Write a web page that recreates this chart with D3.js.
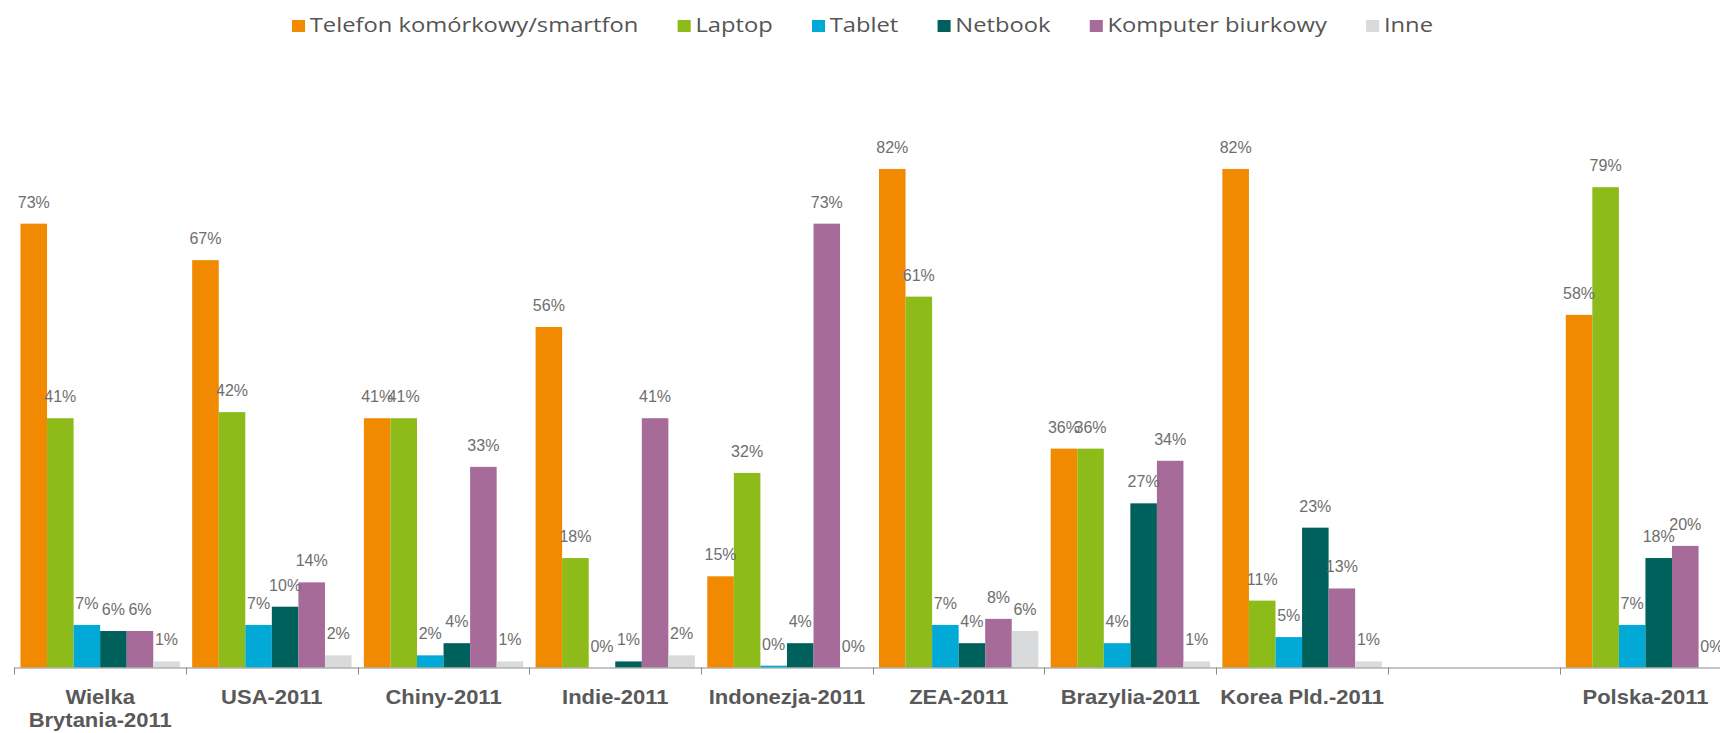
<!doctype html>
<html>
<head>
  <meta charset="utf-8">
  <title>Urządzenia</title>
  <script src="https://d3js.org/d3.v7.min.js"></script>
  <style>
    body { margin: 0; background: #fff; }
    svg { display: block; }
    .legend-text { font-family: "Open Sans", sans-serif; font-size: 20px; fill: #555; }
    .val { font-family: "Liberation Sans", Arial, sans-serif; font-size: 16px; fill: #6e6e6e; }
    .cat { font-family: "Liberation Sans", Arial, sans-serif; font-size: 20px; font-weight: bold; fill: #595959; }
  </style>
</head>
<body>
  <div id="chart"></div>
  <script>
    var width = 1720;
    var height = 733;

    // countries (one empty slot before Polska, like in the original)
    var categories = ["Wielka\nBrytania-2011", "USA-2011", "Chiny-2011", "Indie-2011", "Indonezja-2011",
      "ZEA-2011", "Brazylia-2011", "Korea Pld.-2011", "", "Polska-2011"];
    var series = ["Telefon komórkowy/smartfon", "Laptop", "Tablet", "Netbook", "Komputer biurkowy", "Inne"];
    var colors = ["#f18a00", "#8dbb1a", "#00a9d6", "#00615c", "#a66b99", "#d9dadb"];

    // values in %
    var telefon  = [73, 67, 41, 56, 15, 82, 36, 82, null, 58];
    var laptop   = [41, 42, 41, 18, 32, 61, 36, 11, null, 79];
    var tablet   = [7, 7, 2, 0, 0.3, 7, 4, 5, null, 7];
    var netbook  = [6, 10, 4, 1, 4, 4, 27, 23, null, 18];
    var komputer = [6, 14, 33, 41, 73, 8, 34, 13, null, 20];
    var inne     = [1, 2, 1, 2, 0, 6, 1, 1, null, 0];
    var values = [telefon, laptop, tablet, netbook, komputer, inne];

    var svg = d3.select("#chart")
      .append("svg")
      .attr("width", width)
      .attr("height", height);

    var baseY = 667.5;
    var x0 = d3.scaleBand().domain(categories).range([14.3, 14.3 + 171.7 * categories.length]);
    var x1 = d3.scaleBand().domain(series).range([x0.bandwidth() * 0.036, x0.bandwidth() * 0.964]);
    var y = d3.scaleLinear().domain([0, 100]).range([baseY, baseY - 608]);

    // flatten into bar records
    var bars = [];
    categories.forEach(function(c, i) {
      series.forEach(function(s, j) {
        var v = values[j][i];
        if (v != null) bars.push({ cat: c, ser: s, idx: j, v: v });
      });
    });

    svg.append("g").selectAll("rect")
      .data(bars)
      .enter()
      .append("rect")
      .attr("x", function(d) { return x0(d.cat) + x1(d.ser); })
      .attr("width", x1.bandwidth())
      .attr("y", function(d) { return y(d.v); })
      .attr("height", function(d) { return baseY - y(d.v); })
      .attr("fill", function(d) { return colors[d.idx]; });

    svg.append("g").selectAll("text")
      .data(bars)
      .enter()
      .append("text")
      .attr("class", "val")
      .attr("text-anchor", "middle")
      .attr("x", function(d) { return x0(d.cat) + x1(d.ser) + x1.bandwidth() / 2; })
      .attr("y", function(d) { return y(d.v) - 16; })
      .text(function(d) { return Math.round(d.v) + "%"; });

    // x axis: line + ticks on group boundaries
    var axis = svg.append("g");
    axis.append("line")
      .attr("x1", x0.range()[0]).attr("x2", width)
      .attr("y1", baseY + 0.5).attr("y2", baseY + 0.5)
      .attr("stroke", "#8a8a8a");
    axis.selectAll(".tick")
      .data(categories)
      .enter()
      .append("line")
      .attr("x1", function(d) { return Math.round(x0(d)) + 0.5; })
      .attr("x2", function(d) { return Math.round(x0(d)) + 0.5; })
      .attr("y1", baseY).attr("y2", baseY + 7)
      .attr("stroke", "#8a8a8a");

    var catText = axis.selectAll(".cat")
      .data(categories)
      .enter()
      .append("text")
      .attr("class", "cat")
      .attr("text-anchor", "middle")
      .attr("transform", function(d) {
        return "translate(" + (x0(d) + x0.bandwidth() / 2) + ",704)scale(1.1,1)";
      });
    catText.selectAll("tspan")
      .data(function(d) { return d.split("\n"); })
      .enter()
      .append("tspan")
      .attr("x", 0)
      .attr("dy", function(d, i) { return i ? 23 : 0; })
      .text(function(d) { return d; });

    // legend, laid out from text widths then stretched to the original span
    var legend = svg.append("g");
    var lx = 0;
    series.forEach(function(s, i) {
      var item = legend.append("g").attr("transform", "translate(" + lx + ",0)");
      item.append("rect")
        .attr("x", 0).attr("y", 20).attr("width", 11).attr("height", 12)
        .attr("fill", colors[i]);
      var t = item.append("text")
        .attr("class", "legend-text")
        .attr("x", 15).attr("y", 32)
        .text(s);
      lx += 15 + t.node().getComputedTextLength() + 33;
    });
    var natural = lx - 33;
    var sx = (1433 - 292) / natural;
    legend.attr("transform", "translate(292,0)scale(" + sx + ",1)");
  </script>
</body>
</html>
